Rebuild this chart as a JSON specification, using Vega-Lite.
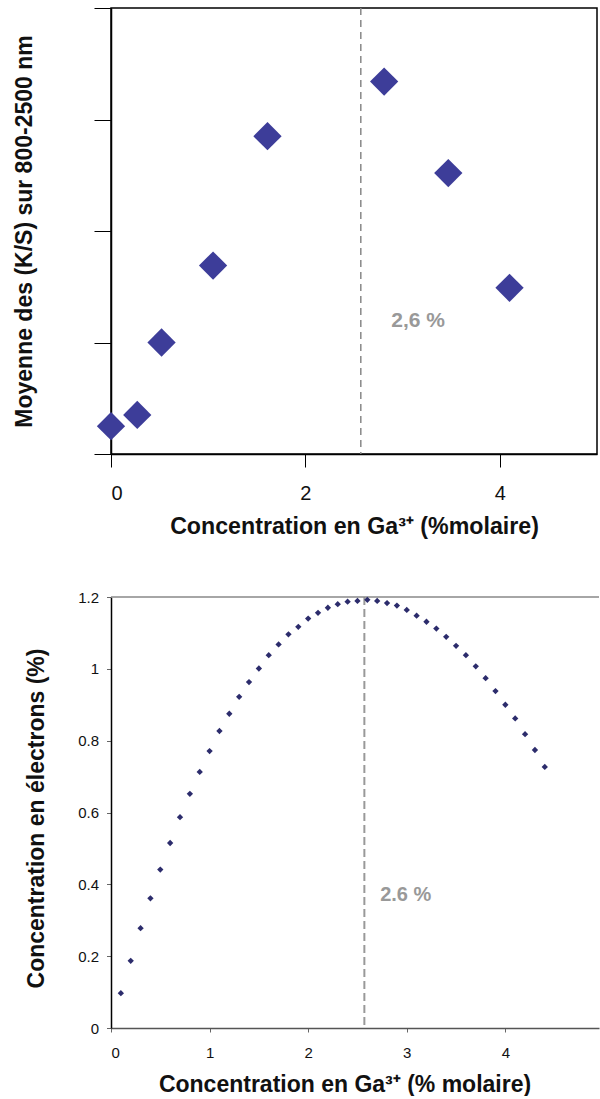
{
  "$schema": "https://vega.github.io/schema/vega-lite/v6.json",
  "background": "white",
  "padding": {"left": 12, "top": 6, "right": 0, "bottom": 0},
  "config": {
    "font": "Liberation Sans",
    "axis": {"grid": false, "labelFont": "Liberation Sans", "titleFont": "Liberation Sans", "labelColor": "#111", "titleColor": "#111"}
  },
  "datasets": {
    "ks": [
      {"c": 0.0, "ks": 0.25},
      {"c": 0.27, "ks": 0.35},
      {"c": 0.52, "ks": 1.0},
      {"c": 1.05, "ks": 1.69},
      {"c": 1.61, "ks": 2.85},
      {"c": 2.81, "ks": 3.34},
      {"c": 3.47, "ks": 2.52},
      {"c": 4.1, "ks": 1.49}
    ],
    "ref": [{"c": 2.57}],
    "lab1": [{"c": 3.16, "ks": 1.19, "t": "2,6 %"}],
    "lab2": [{"c": 2.99, "e": 0.371, "t": "2.6 %"}],
    "top": [{"e": 1.2}],
    "elec": [
      {"c": 0.1, "e": 0.097}, {"c": 0.2, "e": 0.187}, {"c": 0.3, "e": 0.278}, {"c": 0.4, "e": 0.361},
      {"c": 0.5, "e": 0.441}, {"c": 0.6, "e": 0.515}, {"c": 0.7, "e": 0.587}, {"c": 0.8, "e": 0.652},
      {"c": 0.9, "e": 0.713}, {"c": 1.0, "e": 0.771}, {"c": 1.1, "e": 0.827}, {"c": 1.2, "e": 0.875},
      {"c": 1.3, "e": 0.922}, {"c": 1.4, "e": 0.963}, {"c": 1.5, "e": 1.001}, {"c": 1.6, "e": 1.038},
      {"c": 1.7, "e": 1.068}, {"c": 1.8, "e": 1.096}, {"c": 1.9, "e": 1.117}, {"c": 2.0, "e": 1.14},
      {"c": 2.1, "e": 1.156}, {"c": 2.2, "e": 1.17}, {"c": 2.3, "e": 1.18}, {"c": 2.4, "e": 1.187},
      {"c": 2.5, "e": 1.189}, {"c": 2.6, "e": 1.192}, {"c": 2.7, "e": 1.189}, {"c": 2.8, "e": 1.183},
      {"c": 2.9, "e": 1.176}, {"c": 3.0, "e": 1.164}, {"c": 3.1, "e": 1.148}, {"c": 3.2, "e": 1.131},
      {"c": 3.3, "e": 1.112}, {"c": 3.4, "e": 1.089}, {"c": 3.5, "e": 1.064}, {"c": 3.6, "e": 1.038},
      {"c": 3.7, "e": 1.007}, {"c": 3.8, "e": 0.974}, {"c": 3.9, "e": 0.938}, {"c": 4.0, "e": 0.9},
      {"c": 4.1, "e": 0.862}, {"c": 4.2, "e": 0.818}, {"c": 4.3, "e": 0.774}, {"c": 4.4, "e": 0.727}
    ]
  },
  "vconcat": [
    {
      "width": 486,
      "height": 446,
      "view": {"stroke": "#000", "strokeWidth": 1.5},
      "layer": [
        {
          "data": {"name": "ref"},
          "mark": {"type": "rule", "color": "#888", "strokeWidth": 1.5, "strokeDash": [7, 5]},
          "encoding": {
            "x": {"field": "c", "type": "quantitative"}
          }
        },
        {
          "data": {"name": "ks"},
          "mark": {"type": "point", "shape": "diamond", "filled": true, "size": 800, "color": "#3d3d99", "opacity": 1},
          "encoding": {
            "x": {
              "field": "c", "type": "quantitative",
              "scale": {"domain": [0, 5], "nice": false},
              "axis": {
                "values": [0, 2, 4], "format": "~g", "tickSize": 13, "tickColor": "#000", "domainColor": "#000", "domainWidth": 1.5,
                "labelFontSize": 20, "labelPadding": 16,
                "title": "Concentration en Ga³⁺ (%molaire)", "titleFontSize": 23.2, "titleFontWeight": "bold", "titlePadding": 12
              }
            },
            "y": {
              "field": "ks", "type": "quantitative",
              "scale": {"domain": [0, 4], "nice": false},
              "axis": {
                "values": [0, 1, 2, 3, 4], "labels": false, "tickSize": 17, "tickColor": "#000", "domainColor": "#000", "domainWidth": 1.5,
                "title": "Moyenne des (K/S) sur 800-2500 nm", "titleFontSize": 23, "titleFontWeight": "bold", "titlePadding": 57
              }
            }
          }
        },
        {
          "data": {"name": "lab1"},
          "mark": {"type": "text", "fontSize": 21, "fontWeight": "bold", "color": "#999"},
          "encoding": {
            "x": {"field": "c", "type": "quantitative"},
            "y": {"field": "ks", "type": "quantitative"},
            "text": {"field": "t"}
          }
        }
      ]
    },
    {
      "width": 488,
      "height": 431,
      "view": {"stroke": null},
      "layer": [
        {
          "data": {"name": "ref"},
          "mark": {"type": "rule", "color": "#999", "strokeWidth": 2, "strokeDash": [8, 4]},
          "encoding": {
            "x": {"field": "c", "type": "quantitative"}
          }
        },
        {
          "data": {"name": "top"},
          "mark": {"type": "rule", "color": "#888", "strokeWidth": 1.5},
          "encoding": {
            "y": {"field": "e", "type": "quantitative"}
          }
        },
        {
          "data": {"name": "elec"},
          "mark": {"type": "point", "shape": "diamond", "filled": true, "size": 40, "color": "#2c2c6c", "opacity": 1},
          "encoding": {
            "x": {
              "field": "c", "type": "quantitative",
              "scale": {"domain": [0, 4.95], "nice": false},
              "axis": {
                "values": [0, 1, 2, 3, 4], "format": "~g", "tickSize": 4, "tickColor": "#666", "domainColor": "#555", "domainWidth": 1.5,
                "labelFontSize": 15, "labelPadding": 13,
                "title": "Concentration en Ga³⁺ (% molaire)", "titleFontSize": 23, "titleFontWeight": "bold", "titlePadding": 13, "titleX": 233.5
              }
            },
            "y": {
              "field": "e", "type": "quantitative",
              "scale": {"domain": [0, 1.2], "nice": false},
              "axis": {
                "values": [0, 0.2, 0.4, 0.6, 0.8, 1, 1.2], "format": "~g", "tickSize": 4.5, "tickColor": "#666", "domainColor": "#000", "domainWidth": 1.5,
                "labelFontSize": 15, "labelPadding": 8,
                "title": "Concentration en électrons (%)", "titleFontSize": 23, "titleFontWeight": "bold", "titlePadding": 29.5, "titleY": 221
              }
            }
          }
        },
        {
          "data": {"name": "lab2"},
          "mark": {"type": "text", "fontSize": 20, "fontWeight": "bold", "color": "#999"},
          "encoding": {
            "x": {"field": "c", "type": "quantitative"},
            "y": {"field": "e", "type": "quantitative"},
            "text": {"field": "t"}
          }
        }
      ]
    }
  ],
  "spacing": 52
}
